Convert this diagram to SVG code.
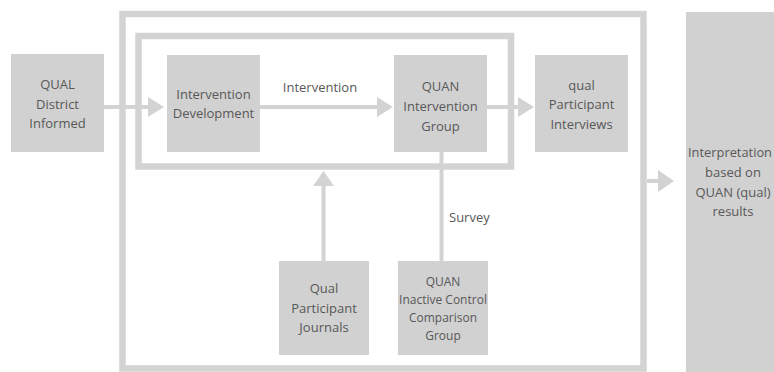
<svg xmlns="http://www.w3.org/2000/svg" width="774" height="372" viewBox="0 0 774 372">
<style>
.box{fill:#d1d1d1}
.frame{fill:none;stroke:#d3d3d3;stroke-width:6.5}
.ln{stroke:#d3d3d3;stroke-width:4;fill:none}
.hd{fill:#d3d3d3}
text{font-family:"Open Sans","DejaVu Sans",sans-serif;font-size:13px;fill:#585858;text-anchor:middle}
.sm{font-size:12px}
</style>
<rect width="774" height="372" fill="#ffffff"/>
<g id="frames">
<rect class="frame" x="122.5" y="14" width="521" height="354.5"/>
<rect class="frame" x="138.5" y="36" width="372.5" height="130.5"/>
</g>
<g id="connectors">
<line class="ln" x1="104" y1="107" x2="149" y2="107"/>
<polygon class="hd" points="148,97 164,107 148,117"/>
<line class="ln" x1="260" y1="107" x2="378" y2="107"/>
<polygon class="hd" points="377,97 393,107 377,117"/>
<text x="320" y="92">Intervention</text>
<line class="ln" x1="487" y1="107" x2="519" y2="107"/>
<polygon class="hd" points="518,97 534,107 518,117"/>
<line class="ln" x1="323.5" y1="261" x2="323.5" y2="185"/>
<polygon class="hd" points="313,186 323.5,171 334,186"/>
<line class="ln" x1="441.5" y1="152" x2="441.5" y2="261"/>
<text x="449" y="221.5" style="text-anchor:start">Survey</text>
<line class="ln" x1="647" y1="181" x2="659" y2="181"/>
<polygon class="hd" points="658,170 674,181 658,192"/>
</g>
<g id="qual-district">
<rect class="box" x="11" y="54" width="93" height="98"/>
<text x="57.5" y="89">QUAL</text>
<text x="57.5" y="108.5">District</text>
<text x="57.5" y="128">Informed</text>
</g>
<g id="intervention-development">
<rect class="box" x="167" y="55" width="93" height="97"/>
<text x="213.5" y="98.5">Intervention</text>
<text x="213.5" y="117.5">Development</text>
</g>
<g id="quan-intervention-group">
<rect class="box" x="394" y="55" width="93" height="97"/>
<text x="440.5" y="90.5">QUAN</text>
<text x="440.5" y="110.5">Intervention</text>
<text x="440.5" y="130.5">Group</text>
</g>
<g id="qual-participant-interviews">
<rect class="box" x="535" y="55" width="93" height="97"/>
<text x="581.5" y="89.5">qual</text>
<text x="581.5" y="109">Participant</text>
<text x="581.5" y="129">Interviews</text>
</g>
<g id="qual-participant-journals">
<rect class="box" x="279" y="261" width="90" height="94"/>
<text x="324" y="292.5">Qual</text>
<text x="324" y="312.5">Participant</text>
<text x="324" y="331.5">Journals</text>
</g>
<g id="quan-inactive-control">
<rect class="box" x="398" y="261" width="90" height="94"/>
<text class="sm" x="443" y="285.5">QUAN</text>
<text class="sm" x="443" y="303.5">Inactive Control</text>
<text class="sm" x="443" y="321.5">Comparison</text>
<text class="sm" x="443" y="339.5">Group</text>
</g>
<g id="interpretation">
<rect class="box" x="686" y="12" width="100" height="362"/>
<text x="730" y="156.5" textLength="84" lengthAdjust="spacingAndGlyphs">Interpretation</text>
<text x="733" y="176.5">based on</text>
<text x="733" y="196.5">QUAN (qual)</text>
<text x="733" y="215.5">results</text>
</g>
</svg>
